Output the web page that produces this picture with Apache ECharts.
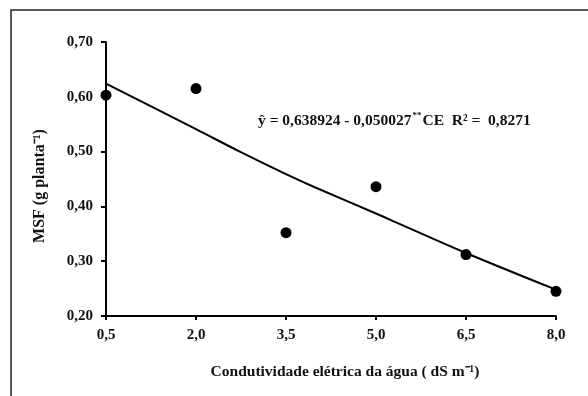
<!DOCTYPE html>
<html><head><meta charset="utf-8">
<script src="https://cdn.jsdelivr.net/npm/echarts@6/dist/echarts.min.js"></script>
<style>html,body{margin:0;padding:0;background:#fff}#c{width:588px;height:396px}</style>
</head><body><div id="c"></div>
<script>
const ceValues = [0.5, 2.0, 3.5, 5.0, 6.5, 8.0];
const msfObserved = [0.603, 0.615, 0.352, 0.436, 0.312, 0.245];
const fitX = [0.5, 2.0, 2.73, 3.5, 3.98, 5.0, 5.23, 6.5, 8.0];
const fitY = [0.624, 0.541, 0.500, 0.459, 0.435, 0.387, 0.376, 0.315, 0.248];
const eqPart1 = 'ŷ = 0,638924 - 0,050027';
const eqSup = '**';
const eqPart2 = 'CE  R² =  0,8271';
const xTitle = 'Condutividade elétrica da água ( dS m\u207B¹)';
const yTitle = 'MSF (g planta\u207B¹)';

const font = '"Liberation Serif", "Times New Roman", serif';
const chart = echarts.init(document.getElementById('c'), null, {renderer: 'canvas'});
chart.setOption({
  animation: false,
  grid: {left: 106, right: 32, top: 42, bottom: 80},
  xAxis: {
    type: 'value', min: 0.5, max: 8.0, interval: 1.5,
    name: xTitle, nameLocation: 'middle', nameGap: 48,
    nameTextStyle: {fontFamily: font, fontWeight: 'bold', fontSize: 15.5, color: '#111', padding: [0, 0, 0, 28]},
    axisLine: {lineStyle: {color: '#000', width: 2}},
    axisTick: {show: true, inside: false, length: 4, lineStyle: {color: '#000', width: 2}},
    axisLabel: {fontFamily: font, fontWeight: 'bold', fontSize: 15, color: '#111', margin: 12,
      formatter: v => v.toFixed(1).replace('.', ',')},
    splitLine: {show: false}
  },
  yAxis: {
    type: 'value', min: 0.2, max: 0.7, interval: 0.1,
    name: yTitle, nameLocation: 'middle', nameGap: 58, nameRotate: 90,
    nameTextStyle: {fontFamily: font, fontWeight: 'bold', fontSize: 16, color: '#111', padding: [0, 14, 0, 0]},
    axisLine: {show: true, lineStyle: {color: '#000', width: 2}},
    axisTick: {show: true, inside: false, length: 5, lineStyle: {color: '#000', width: 2}},
    axisLabel: {fontFamily: font, fontWeight: 'bold', fontSize: 15, color: '#111', margin: 13,
      formatter: v => v.toFixed(2).replace('.', ',')},
    splitLine: {show: false}
  },
  graphic: [
    {type: 'rect', shape: {x: 11, y: 10, width: 600, height: 420},
     style: {fill: 'none', stroke: '#222', lineWidth: 1.5}, silent: true, z: -1},
    {type: 'text', left: 258, top: 111,
     style: {
       text: '{a|' + eqPart1 + '}{s|' + eqSup + '}{a|' + eqPart2 + '}',
       rich: {
         a: {font: 'bold 15.5px ' + font, fill: '#111', lineHeight: 18, verticalAlign: 'bottom'},
         s: {font: 'bold 9px ' + font, fill: '#111', lineHeight: 18, verticalAlign: 'top', padding: [0, 1, 0, 1]}
       }
     }}
  ],
  series: [
    {type: 'line', data: fitX.map((x, i) => [x, fitY[i]]), smooth: 0.3, showSymbol: false,
     lineStyle: {color: '#000', width: 2}, z: 2},
    {type: 'scatter', data: ceValues.map((x, i) => [x, msfObserved[i]]), symbol: 'circle',
     symbolSize: 11, itemStyle: {color: '#000', opacity: 1}, z: 3}
  ]
});
</script></body></html>
